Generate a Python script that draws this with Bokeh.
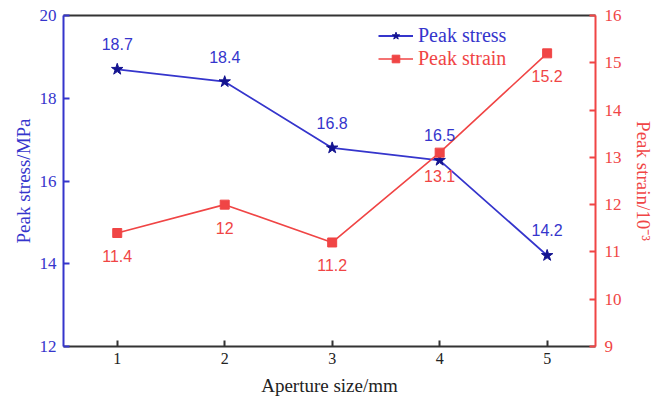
from bokeh.plotting import figure
from bokeh.models import (Range1d, LinearAxis, FixedTicker, Legend, LegendItem,
                          ColumnDataSource)
from bokeh.core.properties import value
from bokeh.embed import file_html
from bokeh.resources import INLINE

aperture = [1, 2, 3, 4, 5]
peak_stress = [18.7, 18.4, 16.8, 16.5, 14.2]
peak_strain = [11.4, 12.0, 11.2, 13.1, 15.2]
stress_labels = ["18.7", "18.4", "16.8", "16.5", "14.2"]
strain_labels = ["11.4", "12", "11.2", "13.1", "15.2"]
x_ticks = [1, 2, 3, 4, 5]
left_ticks = [12, 14, 16, 18, 20]
right_ticks = [9, 10, 11, 12, 13, 14, 15, 16]

BLUE = "#3535cc"
NAVY = "#141490"
RED = "#f04545"
SERIF = "Liberation Serif"
SANS = "Liberation Sans"

p = figure(width=656, height=403, output_backend="svg", toolbar_location=None,
           x_range=Range1d(0.5, 5.45), y_range=Range1d(12, 20),
           min_border_left=63, min_border_right=60, min_border_top=15,
           min_border_bottom=57)
p.extra_y_ranges = {"right": Range1d(9, 16)}
p.outline_line_color = None
p.grid.visible = False
p.background_fill_color = "white"
p.border_fill_color = "white"

# bottom axis
xa = p.xaxis[0]
xa.ticker = FixedTicker(ticks=x_ticks)
xa.axis_label = "Aperture size/mm"
xa.axis_label_text_font = SERIF
xa.axis_label_text_font_style = "normal"
xa.axis_label_text_font_size = "19px"
xa.axis_label_text_color = "#222222"
xa.axis_label_standoff = 8
xa.major_label_text_font = SERIF
xa.major_label_text_font_size = "16px"
xa.major_label_text_color = "#222222"
xa.major_label_standoff = 6
xa.axis_line_color = "#333333"
xa.axis_line_width = 2
xa.major_tick_line_color = "#333333"
xa.major_tick_line_width = 2
xa.major_tick_in = 6
xa.major_tick_out = 0
xa.minor_tick_line_color = None

# left axis
ya = p.yaxis[0]
ya.ticker = FixedTicker(ticks=left_ticks)
ya.axis_label = "Peak stress/MPa"
ya.axis_label_text_font = SERIF
ya.axis_label_text_font_style = "normal"
ya.axis_label_text_font_size = "19px"
ya.axis_label_text_color = BLUE
ya.axis_label_standoff = 3
ya.major_label_text_font = SERIF
ya.major_label_text_font_size = "17px"
ya.major_label_text_color = BLUE
ya.major_label_standoff = 7
ya.axis_line_color = BLUE
ya.axis_line_width = 2
ya.major_tick_line_color = BLUE
ya.major_tick_line_width = 2
ya.major_tick_in = 6
ya.major_tick_out = 0
ya.minor_tick_line_color = None

# right axis
ra = LinearAxis(y_range_name="right", ticker=FixedTicker(ticks=right_ticks))
ra.axis_label = "Peak strain/10\u207b\u00b3"
ra.axis_label_text_font = SERIF
ra.axis_label_text_font_style = "normal"
ra.axis_label_text_font_size = "19px"
ra.axis_label_text_color = RED
ra.axis_label_standoff = 8
ra.major_label_text_font = SERIF
ra.major_label_text_font_size = "17px"
ra.major_label_text_color = RED
ra.major_label_standoff = 9
ra.axis_line_color = RED
ra.axis_line_width = 2
ra.major_tick_line_color = RED
ra.major_tick_line_width = 2
ra.major_tick_in = 6
ra.major_tick_out = 0
ra.minor_tick_line_color = None
p.add_layout(ra, "right")

# top border
ta = LinearAxis(ticker=FixedTicker(ticks=[]), major_label_text_font_size="0px",
                axis_line_color="#333333", axis_line_width=2,
                major_tick_line_color=None, minor_tick_line_color=None)
p.add_layout(ta, "above")

src_s = ColumnDataSource(dict(x=aperture, y=peak_stress, t=stress_labels))
src_e = ColumnDataSource(dict(x=aperture, y=peak_strain, t=strain_labels))

l1 = p.line("x", "y", source=src_s, line_color=BLUE, line_width=1.8)
m1 = p.scatter("x", "y", source=src_s, marker="star", size=12,
               fill_color=NAVY, line_color=NAVY)
l2 = p.line("x", "y", source=src_e, y_range_name="right", line_color=RED,
            line_width=1.6)
m2 = p.scatter("x", "y", source=src_e, y_range_name="right", marker="square",
               size=9, fill_color=RED, line_color=RED)

p.text("x", "y", text="t", source=src_s, y_offset=-25, text_align="center",
       text_baseline="middle", text_font=value(SANS), text_font_size="16px",
       text_color=BLUE)
p.text("x", "y", text="t", source=src_e, y_range_name="right", y_offset=23,
       text_align="center", text_baseline="middle", text_font=value(SANS),
       text_font_size="16px", text_color=RED)

def make_legend(label, renderers, color, loc):
    lg = Legend(items=[LegendItem(label=label, renderers=renderers)],
                location=loc, padding=0, margin=0, spacing=0,
                glyph_width=35, glyph_height=19, label_height=19,
                label_standoff=5, border_line_color=None,
                background_fill_alpha=0)
    lg.label_text_font = SERIF
    lg.label_text_font_size = "20px"
    lg.label_text_color = color
    return lg

p.add_layout(make_legend("Peak stress", [l1, m1], BLUE, (315, 299)))
p.add_layout(make_legend("Peak strain", [l2, m2], RED, (315, 276)))

open("out.html", "w").write(file_html(p, INLINE))
